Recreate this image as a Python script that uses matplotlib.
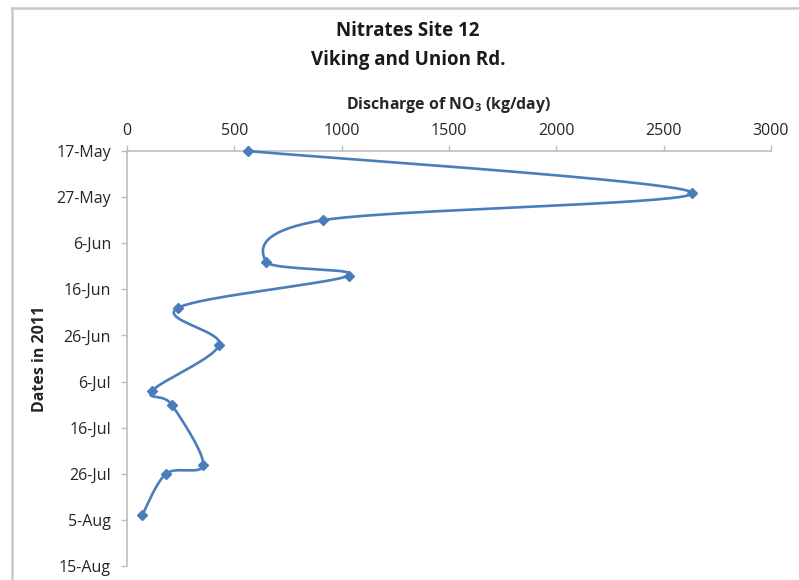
import datetime as dt
import numpy as np
import matplotlib
matplotlib.use("Agg")
import matplotlib.pyplot as plt
import matplotlib.dates as mdates
from matplotlib.lines import Line2D
from matplotlib.ticker import FuncFormatter

plt.rcParams["font.family"] = ["Open Sans", "DejaVu Sans"]
plt.rcParams["mathtext.fontset"] = "custom"
plt.rcParams["mathtext.rm"] = "Open Sans"
plt.rcParams["mathtext.bf"] = "Open Sans:bold"

# Sampling dates and NO3 discharge (kg/day)
sample_dates = ["2011-05-17", "2011-05-26", "2011-06-01", "2011-06-10",
                "2011-06-13", "2011-06-20", "2011-06-28", "2011-07-08",
                "2011-07-11", "2011-07-24", "2011-07-26", "2011-08-04"]
discharge = [563, 2632, 913, 647, 1034, 238, 430, 118, 208, 355, 182, 71]

x_ticks = [0, 500, 1000, 1500, 2000, 2500, 3000]
date_start = "2011-05-17"
date_end = "2011-08-15"

title = "Nitrates Site 12\nViking and Union Rd."
x_label = r"Discharge of NO$_\mathbf{3}$ (kg/day)"
y_label = "Dates in 2011"

blue = "#4A7EBB"
axis_grey = "#BFBFBF"
text_col = "#262626"

fig = plt.figure(figsize=(7.99, 5.80), dpi=100)
ax = fig.add_axes([127 / 799, 1 - 566 / 580, 644 / 799, 415 / 580])

y_num = mdates.date2num([dt.datetime.fromisoformat(d) for d in sample_dates])
x_val = np.array(discharge, dtype=float)
y0 = mdates.date2num(dt.datetime.fromisoformat(date_start))
y1 = mdates.date2num(dt.datetime.fromisoformat(date_end))

ax.set_xlim(x_ticks[0], x_ticks[-1])
ax.set_ylim(y1, y0)

# smooth curve: Catmull-Rom style Bezier segments built in screen space
fig.canvas.draw()
pts = ax.transData.transform(np.column_stack([x_val, y_num]))
ext = np.vstack([pts[0], pts, pts[-1]])
curve = []
t = np.linspace(0, 1, 40)[:, None]
for i in range(len(pts) - 1):
    p0, p3 = ext[i + 1], ext[i + 2]
    c1 = p0 + (ext[i + 2] - ext[i]) / 6.0
    c2 = p3 - (ext[i + 3] - ext[i + 1]) / 6.0
    seg = ((1 - t) ** 3) * p0 + 3 * ((1 - t) ** 2) * t * c1 + 3 * (1 - t) * t ** 2 * c2 + t ** 3 * p3
    curve.append(seg if i == 0 else seg[1:])
curve = ax.transData.inverted().transform(np.vstack(curve))

ax.plot(curve[:, 0], curve[:, 1], color=blue, lw=1.9, solid_capstyle="round",
        zorder=3, clip_on=False)
ax.plot(x_val, y_num, linestyle="none", marker="D", markersize=5,
        color=blue, zorder=4, clip_on=False)

# axes styling
ax.xaxis.tick_top()
ax.xaxis.set_label_position("top")
ax.set_xticks(x_ticks)
ax.set_yticks(np.arange(y0, y1 + 0.5, 10))
ax.yaxis.set_major_formatter(FuncFormatter(
    lambda v, p: f"{mdates.num2date(v).day}-{mdates.num2date(v):%b}"))

for side in ["right", "bottom"]:
    ax.spines[side].set_visible(False)
for side in ["top", "left"]:
    ax.spines[side].set_color(axis_grey)
    ax.spines[side].set_linewidth(1.2)

ax.tick_params(axis="both", which="major", length=4.5, width=1.0,
               color=axis_grey, labelsize=11.5, labelcolor=text_col)
ax.tick_params(axis="x", pad=4)
ax.tick_params(axis="y", pad=7)

ax.set_xlabel(x_label, fontsize=11.4, fontweight="bold", color=text_col, labelpad=10)
ax.set_ylabel(y_label, fontsize=11.5, fontweight="bold", color=text_col, labelpad=6)

fig.text(408 / 799, 1 - 46 / 580, title, ha="center", va="center",
         fontsize=13.5, fontweight="bold", color="#1a1a1a", linespacing=1.6)

# chart area frame
fig.add_artist(Line2D([12 / 799, 1.0], [1 - 8 / 580, 1 - 8 / 580],
                      transform=fig.transFigure, color="#C8C8C8", lw=1.8))
fig.add_artist(Line2D([12 / 799, 12 / 799], [0.0, 1 - 8 / 580],
                      transform=fig.transFigure, color="#C8C8C8", lw=1.8))

fig.savefig("out.png", dpi=100)
